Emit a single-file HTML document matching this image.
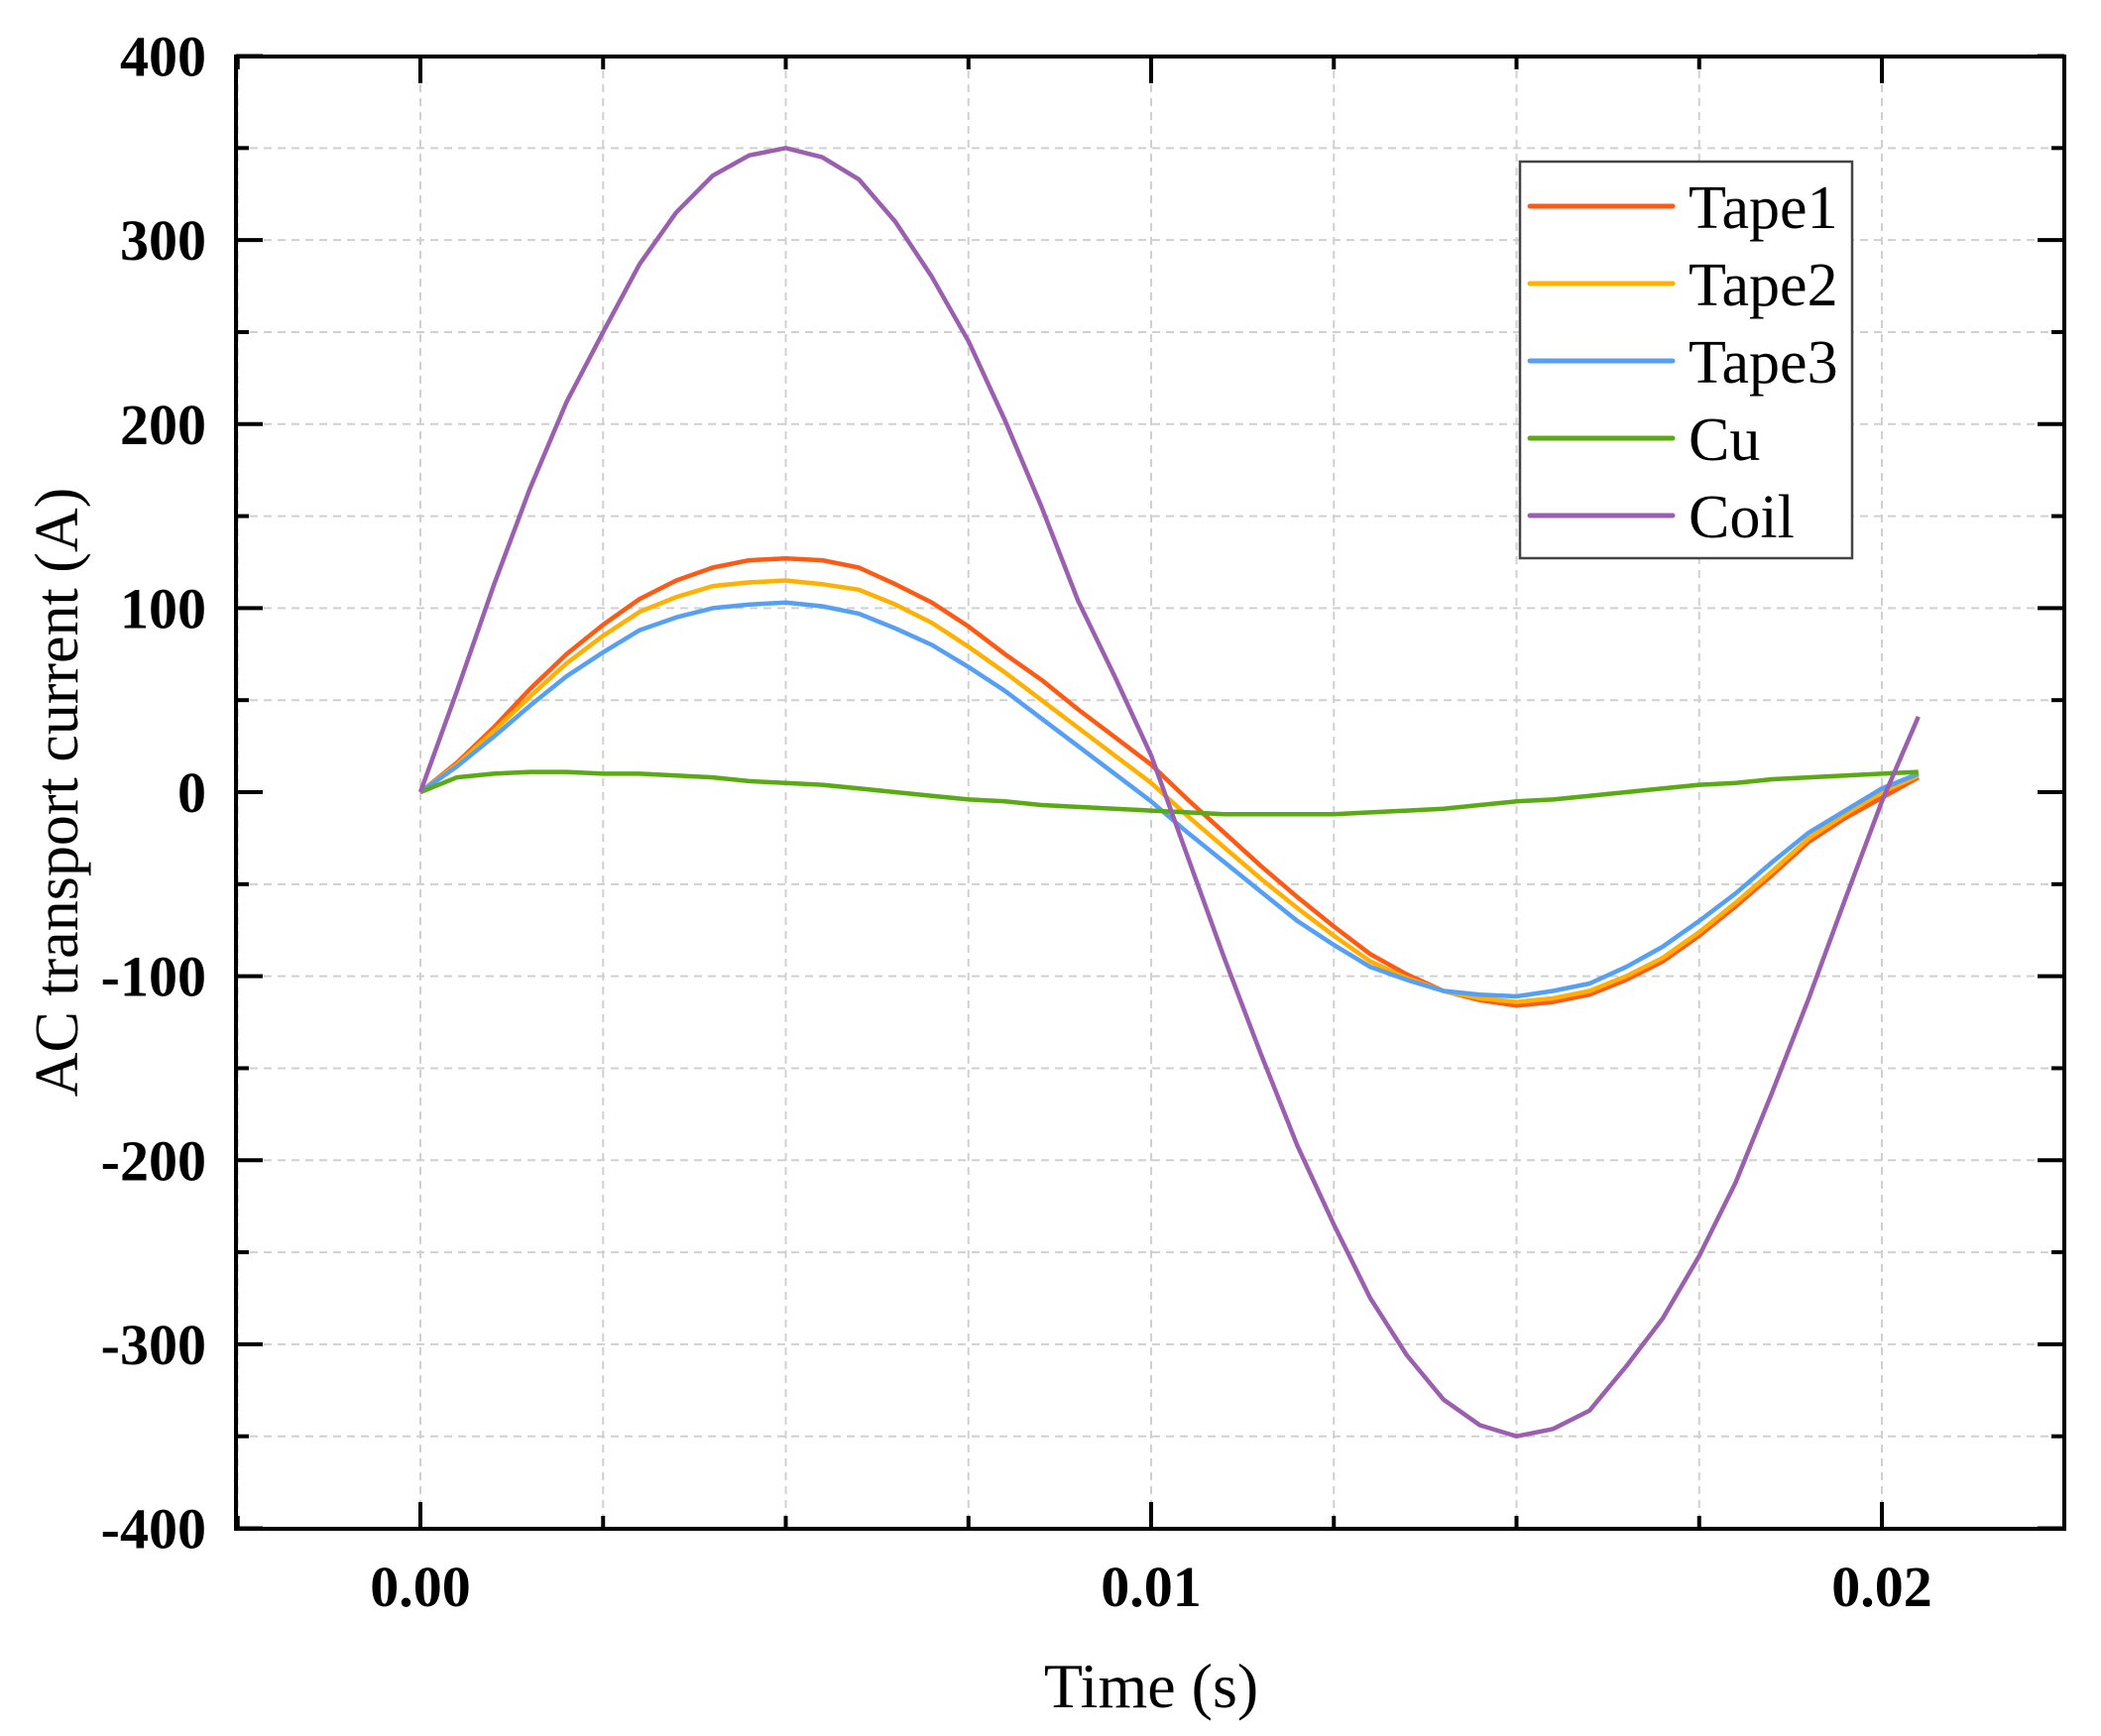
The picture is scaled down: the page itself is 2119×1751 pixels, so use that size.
<!DOCTYPE html>
<html><head><meta charset="utf-8"><style>
html,body{margin:0;padding:0;background:#fff;}
svg{display:block;}
text{font-family:"Liberation Serif",serif;}
</style></head><body>
<svg id="chart" width="2119" height="1751" viewBox="0 0 2119 1751" xmlns="http://www.w3.org/2000/svg"></svg>
<script>
const times = [0,0.0005,0.001,0.0015,0.002,0.0025,0.003,0.0035,0.004,0.0045,0.005,0.0055,0.006,0.0065,0.007,0.0075,0.008,0.0085,0.009,0.0095,0.010,0.0105,0.011,0.0115,0.012,0.0125,0.013,0.0135,0.014,0.0145,0.015,0.0155,0.016,0.0165,0.017,0.0175,0.018,0.0185,0.019,0.0195,0.020,0.0205];
const tape1 = [0,16,35,56,75,91,105,115,122,126,127,126,122,113,103,90,75,61,45,30,15,-4,-22,-40,-57,-73,-88,-99,-108,-113,-116,-114,-110,-102,-92,-78,-62,-45,-27,-14,-3,8];
const tape2 = [0,15,33,52,70,85,98,106,112,114,115,113,110,102,92,79,65,50,35,20,5,-13,-30,-47,-63,-78,-92,-101,-108,-112,-114,-112,-108,-100,-90,-76,-60,-43,-25,-12,0,9];
const tape3 = [0,14,30,47,63,76,88,95,100,102,103,101,97,89,80,68,55,40,25,10,-5,-22,-38,-54,-70,-83,-95,-102,-108,-110,-111,-108,-104,-95,-84,-70,-55,-38,-22,-10,2,10];
const cu = [0,8,10,11,11,10,10,9,8,6,5,4,2,0,-2,-4,-5,-7,-8,-9,-10,-11,-12,-12,-12,-12,-11,-10,-9,-7,-5,-4,-2,0,2,4,5,7,8,9,10,11];
const coil = [0,55,112,165,212,250,287,315,335,346,350,345,333,310,280,245,202,155,104,63,20,-35,-90,-142,-192,-235,-275,-306,-330,-344,-350,-346,-336,-312,-286,-252,-212,-163,-112,-58,-5,41];
const seriesNames = ["Tape1","Tape2","Tape3","Cu","Coil"];
const yTicks = [-400,-300,-200,-100,0,100,200,300,400];
const xTicks = [0,0.01,0.02];
const xTickLabels = ["0.00","0.01","0.02"];

const NS="http://www.w3.org/2000/svg";
const svg=document.getElementById('chart');
const L=238,R=2082,T=57,B=1542;
const X=t=>424+(t/0.01)*737;
const Y=v=>799-v*(B-T)/800;
function el(tag,attrs,parent){const e=document.createElementNS(NS,tag);for(const k in attrs)e.setAttribute(k,attrs[k]);(parent||svg).appendChild(e);return e;}

const grid=el('g',{});


for(let v=-350;v<400;v+=50){ if(v===0)continue;
  el('line',{x1:L,x2:R,y1:Y(v),y2:Y(v),stroke:'#d0d0d0','stroke-width':2,'stroke-dasharray':'8,6'},grid);}
for(let k=-1;k<=8;k++){const t=k*0.0025;
  el('line',{x1:X(t),x2:X(t),y1:T,y2:B,stroke:'#d0d0d0','stroke-width':2,'stroke-dasharray':'8,6'},grid);}

const colors=['#ff5a14','#ffb000','#55a0f5','#5aaa14','#9b5fb0'];
const data=[tape1,tape2,tape3,cu,coil];
data.forEach((d,i)=>{
  const pts=d.map((v,j)=>X(times[j]).toFixed(1)+','+Y(v).toFixed(1)).join(' ');
  const p=el('polyline',{points:pts,fill:'none',stroke:colors[i],'stroke-width':4.5,'stroke-linejoin':'round'});
  
  
});

const frame=el('rect',{x:L,y:T,width:R-L,height:B-T,fill:'none',stroke:'#000','stroke-width':4});



for(let v=-400;v<=400;v+=50){const len=(v%100===0)?27:13;
  el('line',{x1:L,x2:L+len,y1:Y(v),y2:Y(v),stroke:'#000','stroke-width':4});
  el('line',{x1:R,x2:R-len,y1:Y(v),y2:Y(v),stroke:'#000','stroke-width':4});}
for(let k=-1;k<=8;k++){const t=k*0.0025;const len=(k%4===0)?27:13;
  el('line',{x1:X(t),x2:X(t),y1:B,y2:B-len,stroke:'#000','stroke-width':4});
  el('line',{x1:X(t),x2:X(t),y1:T,y2:T+len,stroke:'#000','stroke-width':4});}

yTicks.forEach(v=>{const t=el('text',{x:208,y:Y(v)+20,'text-anchor':'end','font-size':58,'font-weight':'bold'});t.textContent=v;
  
  });
xTicks.forEach((v,i)=>{const t=el('text',{x:X(v),y:1620,'text-anchor':'middle','font-size':58,'font-weight':'bold'});t.textContent=xTickLabels[i];
  
  });

const xt=el('text',{x:1161,y:1722,'text-anchor':'middle','font-size':64});xt.textContent='Time (s)';


const yt=el('text',{x:0,y:0,'text-anchor':'middle','font-size':62,transform:'translate(78,799) rotate(-90)'});yt.textContent='AC transport current (A)';



const lg=el('g',{});


el('rect',{x:1533,y:163,width:335,height:400,fill:'#fff',stroke:'#444','stroke-width':2.5},lg);
seriesNames.forEach((n,i)=>{const y=208+i*78;
  const g=el('g',{},lg);
  
  
  el('line',{x1:1543,x2:1687,y1:y,y2:y,stroke:colors[i],'stroke-width':5,'stroke-linecap':'round'},g);
  const t=el('text',{x:1703,y:y+22,'font-size':62},g);t.textContent=n;});
</script>
</body></html>
